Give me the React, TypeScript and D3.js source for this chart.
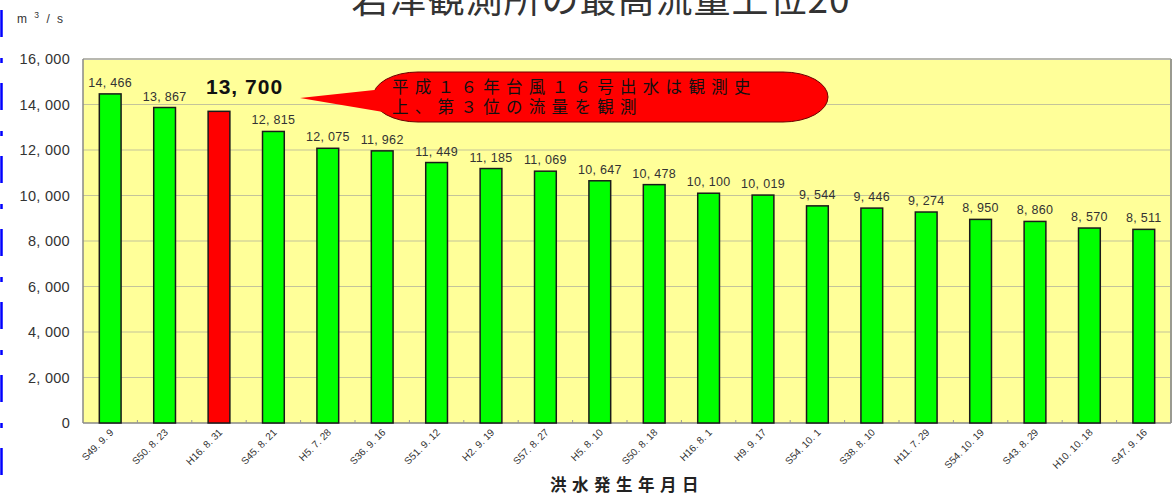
import React from "react";
import * as d3 from "d3";

const categories = [
  "S49. 9. 9", "S50. 8. 23", "H16. 8. 31", "S45. 8. 21", "H5. 7. 28",
  "S36. 9. 16", "S51. 9. 12", "H2. 9. 19", "S57. 8. 27", "H5. 8. 10",
  "S50. 8. 18", "H16. 8. 1", "H9. 9. 17", "S54. 10. 1", "S38. 8. 10",
  "H11. 7. 29", "S54. 10. 19", "S43. 8. 29", "H10. 10. 18", "S47. 9. 16",
];
const values = [
  14466, 13867, 13700, 12815, 12075, 11962, 11449, 11185, 11069, 10647,
  10478, 10100, 10019, 9544, 9446, 9274, 8950, 8860, 8570, 8511,
];
const highlightIndex = 2;
const yTicks = [0, 2000, 4000, 6000, 8000, 10000, 12000, 14000, 16000];
const title = "岩津観測所の最高流量上位20";
const xTitle = "洪水発生年月日";
const calloutLines = ["平成１６年台風１６号出水は観測史", "上、第３位の流量を観測"];

const fmt = (v: number) => {
  const s = d3.format(",")(v);
  return s.replace(",", ", ");
};

export default function App() {
  const left = 83, right = 1171, top = 59, bottom = 423;
  const x = d3.scaleBand<string>().domain(categories).range([left, right]).paddingInner(0.6).paddingOuter(0.3);
  const y = d3.scaleLinear().domain([0, 16000]).range([bottom, top]);
  const step = x.step();
  const font = "'Noto Sans CJK JP', 'Noto Sans', sans-serif";
  const numFont = "'Liberation Sans', Arial, sans-serif";

  const hx = (x(categories[highlightIndex]) as number) + x.bandwidth() / 2;
  const hy = y(values[highlightIndex]);

  const cx0 = 373, cx1 = 828, cy0 = 72, cy1 = 122;
  const pointer = `M300,98 L${cx0 + 20},${cy0 + 16} L${cx0 + 40},${cy1 - 5} Z`;

  return (
    <svg width={1173} height={496} style={{ position: "absolute", left: 0, top: 0, background: "#fff" }}>
      <line x1={1.5} x2={1.5} y1={10} y2={496} stroke="#0000ff" strokeWidth={2.5} strokeDasharray="27 21 5 20" />

      <text x={601} y={13} textAnchor="middle" fontFamily={font} fontSize={37} fill="#333" letterSpacing={1}>{title}</text>

      <text x={17} y={23} fontFamily={numFont} fontSize={12} fill="#333" letterSpacing={2} xmlSpace="preserve">
        {"m "}<tspan dy={-5} fontSize={8.5}>3</tspan><tspan dy={5}>{" / s"}</tspan>
      </text>

      <rect x={left} y={top} width={right - left} height={bottom - top} fill="#ffff99" />

      {yTicks.filter((t) => t > 0 && t < 16000).map((t) => (
        <line key={t} x1={left} x2={right} y1={y(t)} y2={y(t)} stroke="#c4c49a" strokeWidth={1.2} />
      ))}
      <line x1={left} x2={right} y1={top} y2={top} stroke="#b8b8b0" strokeWidth={2} />
      <line x1={right} x2={right} y1={top} y2={bottom} stroke="#9a9a90" strokeWidth={2} />
      <line x1={left} x2={left} y1={top} y2={bottom} stroke="#888" strokeWidth={1.5} />
      <line x1={left} x2={right} y1={bottom} y2={bottom} stroke="#888" strokeWidth={1.5} />

      {categories.map((c, i) => (
        <line key={c + "t"} x1={left + step * (i + 1)} x2={left + step * (i + 1)} y1={bottom} y2={bottom - 3} stroke="#999" strokeWidth={1} />
      ))}

      {yTicks.map((t) => (
        <text key={t} x={70} y={y(t) + 5} textAnchor="end" fontFamily={numFont} fontSize={14.5} fill="#333" letterSpacing={0.3}>
          {fmt(t)}
        </text>
      ))}

      {categories.map((c, i) => (
        <rect key={c} x={x(c)} y={y(values[i])} width={x.bandwidth()} height={bottom - y(values[i])}
          fill={i === highlightIndex ? "#ff0000" : "#00ff00"} stroke="#1a1a1a" strokeWidth={1.5} />
      ))}

      {categories.map((c, i) =>
        i === highlightIndex ? null : (
          <text key={c + "v"} x={(x(c) as number) + x.bandwidth() / 2} y={y(values[i]) - 7} textAnchor="middle"
            fontFamily={numFont} fontSize={12.5} fill="#333" letterSpacing={0.3}>
            {fmt(values[i])}
          </text>
        )
      )}
      <text x={hx - 13} y={hy - 17} fontFamily={numFont} fontSize={21} fontWeight="bold" fill="#111" letterSpacing={1}>
        {fmt(values[highlightIndex])}
      </text>

      <rect x={cx0} y={cy0} width={cx1 - cx0} height={cy1 - cy0} rx={45} ry={25} fill="#ff0000" stroke="#6a0000" strokeWidth={1} />
      <path d={pointer} fill="#ff0000" />
      <text fontFamily={font} fontSize={16.5} fill="#111" letterSpacing={6.3}>
        {calloutLines.map((l, i) => (
          <tspan key={i} x={392} y={93 + i * 19.5}>{l}</tspan>
        ))}
      </text>

      {categories.map((c) => {
        const cxp = (x(c) as number) + x.bandwidth() / 2 + 4;
        return (
          <text key={c + "l"} transform={`translate(${cxp},${433}) rotate(-45)`} textAnchor="end"
            fontFamily={numFont} fontSize={10} fill="#333">
            {c}
          </text>
        );
      })}

      <text x={627} y={491} textAnchor="middle" fontFamily={font} fontSize={16.5} fontWeight="bold" fill="#222" letterSpacing={5.5}>{xTitle}</text>
    </svg>
  );
}
